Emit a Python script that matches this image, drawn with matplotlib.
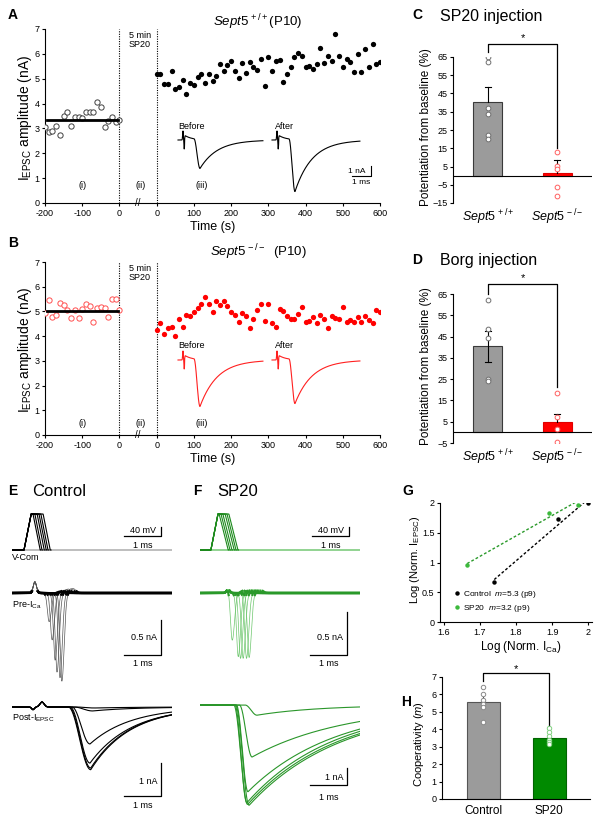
import numpy as np
import matplotlib
matplotlib.use("Agg")
import matplotlib.pyplot as plt

plt.rcParams.update({
    "font.family": ["Liberation Sans", "DejaVu Sans"],
    "mathtext.fontset": "custom",
    "mathtext.rm": "Liberation Sans",
    "mathtext.it": "Liberation Sans:italic",
    "mathtext.bf": "Liberation Sans:bold",
    "axes.linewidth": 0.8,
    "xtick.major.size": 2.5, "ytick.major.size": 2.5,
    "xtick.major.width": 0.8, "ytick.major.width": 0.8,
    "xtick.labelsize": 6.5, "ytick.labelsize": 6.5,
    "xtick.major.pad": 2, "ytick.major.pad": 1.5,
})

# ======================= DATA =======================
# Panel A (Sept5+/+): EPSC amplitude (nA) vs time (s)
a_base_time = list(range(-200, 1, 10))
a_base_amp = [3.05, 2.85, 2.9, 3.1, 2.75, 3.5, 3.65, 3.1, 3.45, 3.45, 3.4,
              3.65, 3.65, 3.65, 4.05, 3.85, 3.05, 3.3, 3.45, 3.25, 3.35]
a_base_mean = 3.35
a_post_time = list(range(0, 601, 10))
a_post_amp = [5.18, 5.18, 4.77, 4.77, 5.33, 4.6, 4.68, 4.94, 4.4, 4.83,
              4.74, 5.07, 5.2, 4.83, 5.17, 4.91, 5.11, 5.6, 5.3, 5.57,
              5.73, 5.3, 5.04, 5.64, 5.22, 5.68, 5.47, 5.34, 5.78, 4.69,
              5.89, 5.3, 5.73, 5.76, 4.85, 5.17, 5.46, 5.86, 6.04, 5.93,
              5.47, 5.5, 5.4, 5.6, 6.25, 5.63, 5.93, 5.73, 6.79, 5.9,
              5.46, 5.79, 5.68, 5.26, 6.0, 5.26, 6.2, 5.47, 6.4, 5.6, 5.68]
# Panel B (Sept5-/-)
b_base_time = list(range(-200, 1, 10))
b_base_amp = [4.93, 5.47, 4.79, 4.86, 5.33, 5.26, 5.06, 4.72, 5.06, 4.75, 5.1,
              5.3, 5.22, 4.59, 5.13, 5.19, 5.13, 4.79, 5.5, 5.5, 5.06]
b_base_mean = 5.0
b_post_time = list(range(0, 601, 10))
b_post_amp = [4.25, 4.55, 4.08, 4.32, 4.35, 4.01, 4.7, 4.36, 4.86, 4.83,
              4.97, 5.13, 5.29, 5.6, 5.29, 4.99, 5.43, 5.26, 5.43, 5.22,
              4.97, 4.86, 4.59, 4.93, 4.83, 4.32, 4.7, 5.06, 5.29, 4.63,
              5.29, 4.52, 4.35, 5.1, 5.02, 4.83, 4.7, 4.7, 4.9, 5.17,
              4.56, 4.63, 4.77, 4.52, 4.86, 4.7, 4.32, 4.83, 4.75, 4.7,
              5.17, 4.56, 4.65, 4.56, 4.77, 4.56, 4.83, 4.65, 4.52, 5.06, 4.99]
sp20_gap = 100          # axis seconds representing the 5 min SP20 break
time_tick_pos = [-200, -100, 0, 100, 200, 300, 400, 500, 600, 700]
time_tick_lab = ["-200", "-100", "0", "0", "100", "200", "300", "400", "500", "600"]
amp_ticks = [0, 1, 2, 3, 4, 5, 6, 7]

# Example EPSC traces in A/B insets (nA, ms)
a_trace_amp = [2.9, 5.2]       # before, after
b_trace_amp = [4.7, 4.4]

# Panel C: SP20 injection, potentiation (%)
bar_groups = [r"$\mathit{Sept5}^{\,+/+}$", r"$\mathit{Sept5}^{\,-/-}$"]
c_means = [40.5, 1.2]
c_sems = [8.0, 7.3]
c_wt_pts = [65, 62, 37, 34, 22, 20]
c_ko_pts = [12.7, 5.1, 3.5, -6.2, -11.3]
c_yticks = [-15, -5, 5, 15, 25, 35, 45, 55, 65]
# Panel D: Borg injection
d_means = [40.5, 5.0]
d_sems = [7.3, 3.6]
d_wt_pts = [62.4, 48.6, 44.1, 25.2, 24.0]
d_ko_pts = [18.6, 7.0, 1.8, -4.6]
d_yticks = [-5, 5, 15, 25, 35, 45, 55, 65]

# Panels E/F traces
vcom_rise = {"E": (0.32, 0.51), "F": (0.29, 0.48)}
vcom_fall_start = {"E": [0.56, 0.61, 0.67, 0.72, 0.77, 0.83],
                   "F": [0.51, 0.56, 0.61, 0.67, 0.72, 0.77]}
vcom_fall_dur = {"E": 0.19, "F": 0.24}
pre_peak_t = {"E": [0.99, 1.07, 1.15, 1.2, 1.28, 1.33],
              "F": [0.86, 1.02, 1.08, 1.15, 1.24, 1.31]}
pre_peak_amp = {"E": [0.41, 0.67, 0.96, 1.13, 1.21, 1.26],
                "F": [0.55, 0.74, 0.76, 0.76, 0.76, 0.75]}
post_amp = {"E": [0.03, 0.12, 1.12, 1.7, 1.85, 1.9],
            "F": [0.6, 3.06, 5.1, 5.75, 5.85, 5.9]}
post_onset = {"E": [1.7, 1.65, 1.6, 1.55, 1.52, 1.5],
              "F": [1.2, 1.05, 0.97, 0.93, 0.9, 0.95]}
post_peak = {"E": [2.2, 2.15, 2.08, 2.08, 2.1, 2.1],
             "F": [1.52, 1.39, 1.28, 1.25, 1.27, 1.31]}
post_tau = {"E": [1.1, 1.1, 1.1, 1.1, 1.05, 1.05],
            "F": [1.66, 2.5, 2.33, 2.3, 2.4, 2.45]}

# Panel G: log-log plot
g_ctrl_x = [1.74, 1.915, 2.0]
g_ctrl_y = [0.68, 1.73, 2.0]
g_sp_x = [1.665, 1.89, 1.97]
g_sp_y = [0.96, 1.84, 1.97]
g_xticks = [1.6, 1.7, 1.8, 1.9, 2.0]
g_xlabels = ["1.6", "1.7", "1.8", "1.9", "2"]
g_yticks = [0, 0.5, 1, 1.5, 2]
g_ylabels = ["0", "0.5", "1", "1.5", "2"]

# Panel H: cooperativity
h_groups = ["Control", "SP20"]
h_means = [5.57, 3.52]
h_sems = [0.3, 0.15]
h_ctrl_pts = [6.45, 6.03, 5.69, 5.46, 5.3, 4.42]
h_sp_pts = [4.07, 3.87, 3.64, 3.39, 3.26, 3.16]

# ======================= FIGURE =======================
W, H = 604, 823
fig = plt.figure(figsize=(W / 100, H / 100), dpi=100)


def axp(x0, y0, x1, y1):
    return fig.add_axes([x0 / W, 1 - y1 / H, (x1 - x0) / W, (y1 - y0) / H])


def txt(x, y, s, **kw):
    kw.setdefault("va", "center")
    fig.text(x / W, 1 - y / H, s, **kw)


def epsc(t, t0, tp, amp, tau):
    y = np.zeros_like(t)
    r = (t >= t0) & (t < tp)
    y[r] = np.sin((t[r] - t0) / (tp - t0) * np.pi / 2) ** 2
    d = t >= tp
    y[d] = np.exp(-(t[d] - tp) / tau)
    return -amp * y


def artifact(t, ta):
    y = 0.9 * np.exp(-((t - ta) / 0.025) ** 2) - 0.9 * np.exp(-((t - ta - 0.06) / 0.025) ** 2)
    post = t > ta + 0.08
    y[post] += 0.6 * np.exp(-(t[post] - ta) / 0.35)
    return y


# ---------- Panels A and B ----------
def time_course(box, base_t, base_y, base_mean, post_t, post_y, col, open_col,
                trace_amps, trace_box, scalebar):
    ax = axp(*box)
    ax.plot(base_t, base_y, "o", ms=3.8, mfc="white", mec=open_col, mew=0.7, zorder=3)
    ax.plot([base_t[0] + 5, base_t[-1] - 5], [base_mean, base_mean], color="black", lw=2.0, zorder=4)
    ax.plot(np.array(post_t) + sp20_gap, post_y, "o", ms=3.8, color=col, mew=0, zorder=3)
    ax.set_xlim(-200, 700)
    ax.set_ylim(0, 7)
    ax.set_xticks(time_tick_pos)
    ax.set_xticklabels(time_tick_lab)
    ax.set_yticks(amp_ticks)
    for s in ("top", "right"):
        ax.spines[s].set_visible(False)
    ax.vlines([0, sp20_gap], 0, 7, colors="black", linestyles=(0, (1, 1.2)), lw=0.8, clip_on=False)
    ax.text(55, 6.55, "5 min\nSP20", ha="center", va="center", fontsize=6.5, linespacing=1.0)
    ax.text(50, 0.02, "//", ha="center", va="center", fontsize=7, clip_on=False)
    ly = 0.72 if col == "black" else 0.48
    ax.text(-100, ly, "(i)", ha="center", va="center", fontsize=6.5)
    ax.text(57, ly, "(ii)", ha="center", va="center", fontsize=6.5)
    ax.text(222, ly, "(iii)", ha="center", va="center", fontsize=6.5)
    ax.set_xlabel("Time (s)", fontsize=9, labelpad=2)
    # inset traces
    ia = axp(*trace_box[0])
    ia.set_xlim(0, 10)
    ia.set_ylim(*trace_box[1])
    ia.axis("off")
    tb = np.arange(0.15, 4.4, 0.005)
    yb = epsc(tb, 0.95, 1.25, trace_amps[0], 0.85) + artifact(tb, 0.4)
    ta = np.arange(4.85, 9.25, 0.005)
    yaa = epsc(ta, 5.7, 6.0, trace_amps[1], 0.85) + artifact(ta, 5.1)
    tcol = "black" if col == "black" else "#ff2020"
    ia.plot(tb, yb, color=tcol, lw=0.8)
    ia.plot(ta, yaa, color=tcol, lw=0.8)
    ia.text(0.15, 1.4, "Before", fontsize=6.5, ha="left", va="center")
    ia.text(5.0, 1.4, "After", fontsize=6.5, ha="left", va="center")
    if scalebar:
        ia.plot([8.85, 9.8, 9.8], [-3.6, -3.6, -2.6], color="black", lw=0.8)
        ia.text(9.5, -3.1, "1 nA", fontsize=6, ha="right", va="center")
        ia.text(9.3, -4.2, "1 ms", fontsize=6, ha="center", va="center")
    return ax


time_course((45, 29, 380, 203), a_base_time, a_base_amp, a_base_mean,
            a_post_time, a_post_amp, "black", "#404040",
            a_trace_amp, ((175, 115, 375, 200), (-6.0, 2.5)), True)
time_course((45, 262, 380, 435), b_base_time, b_base_amp, b_base_mean,
            b_post_time, b_post_amp, "#ff0000", "#ff5050",
            b_trace_amp, ((175, 340, 375, 425), (-6.5, 2.0)), False)

txt(25, 118, r"I$_{\mathrm{EPSC}}$ amplitude (nA)", rotation=90, ha="center", fontsize=10)
txt(25, 350, r"I$_{\mathrm{EPSC}}$ amplitude (nA)", rotation=90, ha="center", fontsize=10)
txt(258, 22, r"$\mathit{Sept5}^{\,+/+}$(P10)", ha="center", fontsize=9.5)
txt(258, 252, r"$\mathit{Sept5}^{\,-/-}$  (P10)", ha="center", fontsize=9.5)


# ---------- Panels C and D ----------
def bar_panel(box, means, sems, wt_pts, ko_pts, yticks, ylim, bracket, err_both):
    ax = axp(*box)
    ax.bar(0, means[0], width=0.42, color="#9b9b9b", edgecolor="#3a3a3a", lw=0.8, zorder=2)
    ax.bar(1, means[1], width=0.42, color="#ff0000", edgecolor="#e00000", lw=0.8, zorder=2)
    lo0 = means[0] - sems[0] if err_both else means[0]
    ax.plot([0, 0], [lo0, means[0] + sems[0]], color="black", lw=0.8, zorder=3)
    ax.plot([-0.04, 0.04], [means[0] + sems[0]] * 2, color="black", lw=0.8, zorder=3)
    if err_both:
        ax.plot([-0.04, 0.04], [lo0] * 2, color="black", lw=0.8, zorder=3)
    ax.plot([1, 1], [means[1], means[1] + sems[1]], color="black", lw=0.8, zorder=3)
    ax.plot([0.96, 1.04], [means[1] + sems[1]] * 2, color="black", lw=0.8, zorder=3)
    ax.axhline(0, color="black", lw=0.8, zorder=4)
    ax.plot([0] * len(wt_pts), wt_pts, "o", ms=3.4, mfc="white", mec="#707070", mew=0.7, zorder=5)
    ax.plot([1] * len(ko_pts), ko_pts, "o", ms=3.4, mfc="white", mec="#ff6060", mew=0.7, zorder=5)
    by, lb, rb, sy = bracket
    ax.plot([0, 0, 1, 1], [lb, by, by, rb], color="black", lw=0.9, clip_on=False)
    ax.text(0.5, sy, "*", ha="center", va="center", fontsize=8, clip_on=False)
    ax.set_xlim(-0.507, 1.507)
    ax.set_ylim(*ylim)
    ax.set_yticks(yticks)
    ax.set_xticks([0, 1])
    ax.set_xticklabels(bar_groups, fontsize=9)
    ax.tick_params(axis="x", length=0, pad=3)
    for s in ("top", "right", "bottom"):
        ax.spines[s].set_visible(False)
    return ax


bar_panel((453, 57, 592, 203), c_means, c_sems, c_wt_pts, c_ko_pts, c_yticks,
          (-15, 65), (72, 67.5, 15, 75.5), False)
bar_panel((453, 294, 592, 443), d_means, d_sems, d_wt_pts, d_ko_pts, d_yticks,
          (-5, 65), (69.5, 65, 21.5, 72.5), True)
txt(426, 127, "Potentiation from baseline (%)", rotation=90, ha="center", fontsize=8.5)
txt(426, 366, "Potentiation from baseline (%)", rotation=90, ha="center", fontsize=8.5)
txt(417, 15, "C", fontsize=10, fontweight="bold", ha="center")
txt(440, 16, "SP20 injection", fontsize=11.5, ha="left")
txt(417, 260, "D", fontsize=10, fontweight="bold", ha="center")
txt(440, 260, "Borg injection", fontsize=11.5, ha="left")

# ---------- Panels E and F ----------
MS_PX = 37.5  # pixels per ms in E/F


def trace_axes(x0, y0, y1, base_px, px_per_unit):
    ax = axp(x0, y0, x0 + 160, y1)
    ax.set_xlim(0, 160 / MS_PX)
    ax.set_ylim(-(y1 - base_px) / px_per_unit, (base_px - y0) / px_per_unit)
    ax.axis("off")
    return ax


def scale_bar(ax, x0_px, bar_px, x_left_px, y_bot, y_top, vlabel, vy, hy):
    t1 = (bar_px - x0_px) / MS_PX
    t0 = (x_left_px - x0_px) / MS_PX
    ax.plot([t0, t1, t1], [y_bot, y_bot, y_top], color="black", lw=0.9, clip_on=False)
    if vlabel:
        ax.text(t1 - 0.1, vy, vlabel, ha="right", va="center", fontsize=6.5)
    ax.text((t0 + t1) / 2, hy, "1 ms", ha="center", va="center", fontsize=6.5)


t = np.arange(0, 160 / MS_PX, 0.004)
panel_cols = {"E": {"ramp": "black", "base": "#9a9a9a", "pre": "#555555", "prebase": "black", "post": "black"},
              "F": {"ramp": "#1d8a1d", "base": "#55bb55", "pre": "#6cc66c", "prebase": "#2a992a", "post": "#2a962a"}}
for key, x0 in (("E", 12), ("F", 200)):
    c = panel_cols[key]
    # V-command (mV): 1 px = 40/9 mV
    av = trace_axes(x0, 500, 560, 550, 9 / 40)
    av.set_ylim(-80 - 10 * 40 / 9, -80 + 50 * 40 / 9)
    r0, r1 = vcom_rise[key]
    av.plot(t, np.full_like(t, -80.0), color=c["base"], lw=0.9)
    for fs in vcom_fall_start[key]:
        knots_t = [0, r0, r1, fs, fs + vcom_fall_dur[key], t[-1]]
        knots_v = [-80, -80, 80, 80, -80, -80]
        seg = t <= fs + vcom_fall_dur[key] + 0.02
        av.plot(t[seg], np.interp(t[seg], knots_t, knots_v), color=c["ramp"], lw=0.8)
    b0 = (-80 + 14 * 40 / 9)
    scale_bar(av, x0, x0 + 149, x0 + 112, b0, b0 + 40, "", 0, b0 - 40)
    av.text(130.5 / MS_PX, b0 + 4, "40 mV", ha="center", va="bottom", fontsize=6.5)

    # Pre Ca current
    ppx = 70 if key == "E" else 86
    ap = trace_axes(x0, 570, 700, 593, ppx)
    hump_t = 0.61 if key == "E" else 0.75
    hump_a = 0.16 if key == "E" else 0.04
    for tp, am in zip(pre_peak_t[key], pre_peak_amp[key]):
        s = np.where(t < tp, 0.065, 0.085)
        y = -am * np.exp(-((t - tp) / s) ** 2) + hump_a * np.exp(-((t - hump_t) / 0.06) ** 2)
        y += 0.05 * am * np.exp(-((t - tp - 0.3) / 0.1) ** 2)
        ap.plot(t, y, color=c["pre"], lw=0.5)
        base_only = np.where(np.abs(y) < 0.025, y, np.nan)
        ap.plot(t, base_only, color=c["prebase"], lw=1.6)
    yt = (593 - (620 if key == "E" else 612)) / ppx
    ybt = (593 - 655) / ppx
    scale_bar(ap, x0, x0 + (149 if key == "E" else 147), x0 + (112 if key == "E" else 110),
              ybt, yt, "0.5 nA", (593 - 638) / ppx, (593 - 664) / ppx)

    # Post EPSC
    qpx = 33 if key == "E" else 17
    base_post = 707 if key == "E" else 705
    aq = trace_axes(x0, 690, 815, base_post, qpx)
    for a_, t0_, tp_, tau_ in zip(post_amp[key], post_onset[key], post_peak[key], post_tau[key]):
        y = epsc(t, t0_, tp_, a_, tau_)
        if key == "E":
            y += -0.08 * np.exp(-((t - 0.56) / 0.05) ** 2) + 0.15 * np.exp(-((t - 0.8) / 0.08) ** 2)
        aq.plot(t, y, color=c["post"], lw=0.8)
    vt = (base_post - (763 if key == "E" else 768)) / qpx
    vb = (base_post - (796 if key == "E" else 785)) / qpx
    scale_bar(aq, x0, x0 + (149 if key == "E" else 147), x0 + (112 if key == "E" else 110),
              vb, vt, "1 nA", (base_post - (781 if key == "E" else 777)) / qpx,
              (base_post - (805 if key == "E" else 797)) / qpx)

txt(12, 557, "V-Com", fontsize=6.5, ha="left")
txt(12, 605, r"Pre-I$_{\mathrm{Ca}}$", fontsize=6.5, ha="left")
txt(12, 718, r"Post-I$_{\mathrm{EPSC}}$", fontsize=6.5, ha="left")
txt(13, 491, "E", fontsize=10, fontweight="bold", ha="center")
txt(32, 492, "Control", fontsize=12, ha="left")
txt(197, 491, "F", fontsize=10, fontweight="bold", ha="center")
txt(217, 492, "SP20", fontsize=12, ha="left")

# ---------- Panel G ----------
ag = axp(440, 503, 592, 622)
for xs, ys, col, lcol, lab in ((g_ctrl_x, g_ctrl_y, "black", "black", r"Control  $\mathit{m}$=5.3 (p9)"),
                               (g_sp_x, g_sp_y, "#3cb93c", "#2a9a2a", r"SP20  $\mathit{m}$=3.2 (p9)")):
    k, b = np.polyfit(xs, ys, 1)
    xl = np.array([min(xs), max(xs)])
    ag.plot(xl, k * xl + b, color=lcol, lw=1.0, ls=(0, (2, 1.5)))
    ag.plot(xs, ys, "o", color=col, ms=3.2, mew=0, label=lab, zorder=3)
ag.set_xlim(1.59, 2.01)
ag.set_ylim(0, 2)
ag.set_xticks(g_xticks)
ag.set_xticklabels(g_xlabels)
ag.set_yticks(g_yticks)
ag.set_yticklabels(g_ylabels)
for s in ("top", "right"):
    ag.spines[s].set_visible(False)
ag.legend(loc="lower left", bbox_to_anchor=(0.05, 0.02), frameon=False, fontsize=6,
          handlelength=0.8, handletextpad=0.4, labelspacing=0.3, borderpad=0.2)
txt(521, 647, r"Log (Norm. I$_{\mathrm{Ca}}$)", fontsize=8.5, ha="center")
txt(415, 560, r"Log (Norm. I$_{\mathrm{EPSC}}$)", fontsize=8, rotation=90, ha="center")
txt(408, 491, "G", fontsize=10, fontweight="bold", ha="center")

# ---------- Panel H ----------
ah = axp(442, 677, 590, 799)
ah.bar(0, h_means[0], width=0.5, color="#9b9b9b", edgecolor="#555555", lw=0.8, zorder=2)
ah.bar(1, h_means[1], width=0.5, color="#008a00", edgecolor="#006400", lw=0.8, zorder=2)
for i in range(2):
    ah.plot([i, i], [h_means[i] - h_sems[i], h_means[i] + h_sems[i]], color="#333333", lw=0.7, zorder=3)
ah.plot([0] * len(h_ctrl_pts), h_ctrl_pts, "o", ms=3.2, mfc="white", mec="#8a8a8a", mew=0.7, zorder=4)
ah.plot([1] * len(h_sp_pts), h_sp_pts, "o", ms=3.2, mfc="white", mec="#80d080", mew=0.7, zorder=4)
ah.plot([0, 0, 1, 1], [6.75, 7.24, 7.24, 4.15], color="black", lw=0.9, clip_on=False)
ah.text(0.5, 7.45, "*", ha="center", va="center", fontsize=8, clip_on=False)
ah.set_xlim(-0.63, 1.62)
ah.set_ylim(0, 7)
ah.set_yticks(range(0, 8))
ah.set_xticks([0, 1])
ah.set_xticklabels(h_groups, fontsize=8.5)
ah.tick_params(axis="x", length=0, pad=4)
for s in ("top", "right"):
    ah.spines[s].set_visible(False)
txt(419, 744, r"Cooperativity ($\mathit{m}$)", fontsize=8, rotation=90, ha="center")
txt(406, 702, "H", fontsize=10, fontweight="bold", ha="center")

txt(13, 15, "A", fontsize=10, fontweight="bold", ha="center")
txt(13, 243, "B", fontsize=10, fontweight="bold", ha="center")

fig.savefig("out.png", dpi=100)
